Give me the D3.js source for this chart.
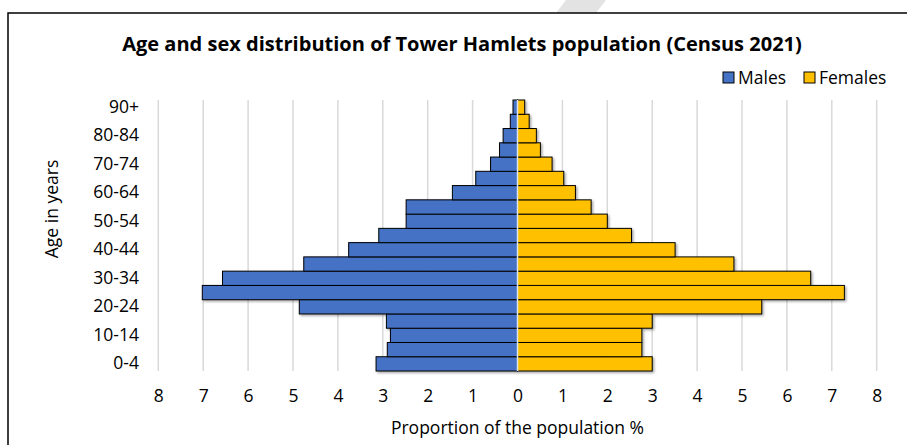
<!DOCTYPE html>
<html>
<head>
<meta charset="utf-8">
<title>Tower Hamlets population pyramid</title>
<script src="https://cdn.jsdelivr.net/npm/d3@7"></script>
<style>
  body { margin: 0; background: #fff; }
  text { font-family: "Open Sans", Lato, sans-serif; fill: #000; }
  .lbl { font-size: 17.5px; }
  .title { font-size: 20px; font-weight: bold; }
</style>
</head>
<body>
<div id="chart"></div>
<script>
// age bands, youngest first
var ages = ["0-4","5-9","10-14","15-19","20-24","25-29","30-34","35-39","40-44",
            "45-49","50-54","55-59","60-64","65-69","70-74","75-79","80-84","85-89","90+"];
// % of population
var males   = [3.15, 2.90, 2.83, 2.92, 4.86, 7.02, 6.57, 4.76, 3.76,
               3.09, 2.48, 2.48, 1.45, 0.93, 0.60, 0.40, 0.32, 0.16, 0.10];
var females = [3.00, 2.77, 2.77, 3.00, 5.44, 7.28, 6.53, 4.82, 3.51,
               2.54, 2.00, 1.64, 1.29, 1.03, 0.77, 0.51, 0.42, 0.26, 0.16];
var xTicks = [-8,-7,-6,-5,-4,-3,-2,-1,0,1,2,3,4,5,6,7,8];
var shownAges = ["0-4","10-14","20-24","30-34","40-44","50-54","60-64","70-74","80-84","90+"];

var W = 907, H = 445;
var svg = d3.select("#chart").append("svg").attr("width", W).attr("height", H);

// shrink/grow a text's font so it spans the given width
function fitWidth(sel, target) {
  var len = sel.node().getComputedTextLength();
  var fs = parseFloat(getComputedStyle(sel.node()).fontSize);
  sel.style("font-size", (fs * target / len) + "px");
}

// faint watermark stripe at the very top
svg.append("polygon").attr("points", "566,0 606,0 596,13 556,13").attr("fill", "#e3e3e3");

// chart frame (runs off the right and bottom)
svg.append("rect").attr("x", 8).attr("y", 13).attr("width", 920).attr("height", 460)
   .attr("fill", "#fff").attr("stroke", "#000").attr("stroke-width", 1.5);

var defs = svg.append("defs");
var f = defs.append("filter").attr("id", "shadow").attr("x", "-5%").attr("y", "-20%").attr("width", "115%").attr("height", "160%");
f.append("feDropShadow").attr("dx", 1.5).attr("dy", 1.5).attr("stdDeviation", 0.8)
  .attr("flood-color", "#000").attr("flood-opacity", 0.35);

var x = d3.scaleLinear().domain([-8, 8]).range([158.3, 876.7]);
var y = d3.scaleBand().domain(ages.slice().reverse()).range([100, 371]).padding(0);

// gridlines
svg.append("g").selectAll("line").data(xTicks).join("line")
   .attr("x1", d => x(d)).attr("x2", d => x(d))
   .attr("y1", 100).attr("y2", 371)
   .attr("stroke", "#d9d9d9").attr("stroke-width", 1.5);

// bars
var bars = svg.append("g").attr("filter", "url(#shadow)");
bars.selectAll("rect.m").data(ages).join("rect").attr("class", "m")
   .attr("x", (d, i) => x(-males[i])).attr("width", (d, i) => x(0) - x(-males[i]))
   .attr("y", d => y(d)).attr("height", y.bandwidth())
   .attr("fill", "#4472C4").attr("stroke", "#000").attr("stroke-width", 1);
bars.selectAll("rect.f").data(ages).join("rect").attr("class", "f")
   .attr("x", x(0)).attr("width", (d, i) => x(females[i]) - x(0))
   .attr("y", d => y(d)).attr("height", y.bandwidth())
   .attr("fill", "#FFC000").attr("stroke", "#000").attr("stroke-width", 1);

// vertical axis line at zero
svg.append("line").attr("x1", x(0)).attr("x2", x(0)).attr("y1", 100).attr("y2", 371)
   .attr("stroke", "#dae3f3").attr("stroke-width", 1.5);

// x axis
var xAxis = svg.append("g").attr("transform", "translate(0,371)")
   .call(d3.axisBottom(x).tickValues(xTicks).tickFormat(d => Math.abs(d)).tickSize(0).tickPadding(19));
xAxis.select(".domain").remove();
xAxis.selectAll("text").attr("class", "lbl").attr("font-family", null).attr("font-size", null);

// y axis, every other band labelled
var yAxis = svg.append("g").attr("transform", "translate(147,0)")
   .call(d3.axisLeft(y).tickValues(shownAges).tickSize(0).tickPadding(8));
yAxis.select(".domain").remove();
yAxis.selectAll("text").attr("class", "lbl").attr("font-family", null).attr("font-size", null);

// titles
var title = svg.append("text").attr("class", "title").attr("x", 462).attr("y", 51)
   .attr("text-anchor", "middle").text("Age and sex distribution of Tower Hamlets population (Census 2021)");
fitWidth(title, 680);
svg.append("text").attr("class", "lbl").attr("x", x(0)).attr("y", 434)
   .attr("text-anchor", "middle").text("Proportion of the population %");
svg.append("text").attr("class", "lbl")
   .attr("transform", "translate(58,209) rotate(-90)")
   .attr("text-anchor", "middle").text("Age in years");

// legend
var legend = [["Males", "#4472C4", 723], ["Females", "#FFC000", 804]];
var lg = svg.append("g").selectAll("g").data(legend).join("g")
   .attr("transform", d => "translate(" + d[2] + ",72)");
lg.append("rect").attr("width", 11).attr("height", 11)
   .attr("fill", d => d[1]).attr("stroke", "#000").attr("stroke-width", 1);
lg.append("text").attr("class", "lbl").attr("x", 15).attr("y", 11.5).text(d => d[0]);
</script>
</body>
</html>
